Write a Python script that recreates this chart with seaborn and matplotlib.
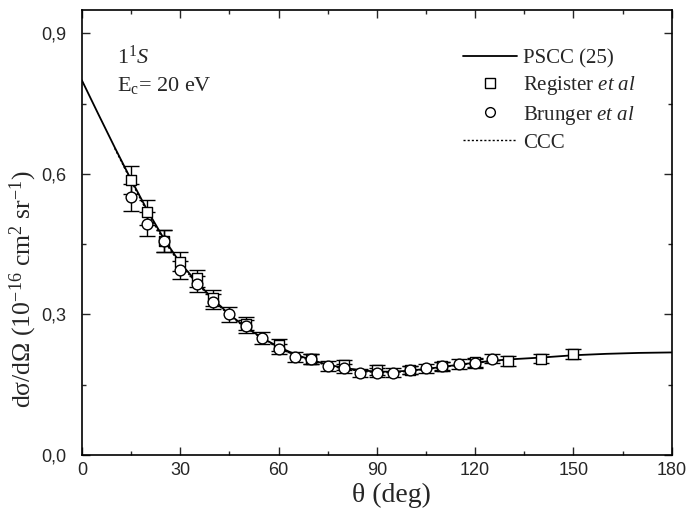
import numpy as np
import pandas as pd
import seaborn as sns
import matplotlib.pyplot as plt
from matplotlib.lines import Line2D
from matplotlib.ticker import MultipleLocator, FuncFormatter

# PSCC (25) theory curve
pscc_angle = [0, 5, 10, 15, 20, 25, 30, 35, 40, 45, 50, 55, 60, 65, 70, 75, 80, 85, 90,
              95, 100, 105, 110, 115, 120, 125, 130, 140, 150, 160, 170, 180]
pscc_dcs = [0.800, 0.728, 0.657, 0.588, 0.522, 0.462, 0.410, 0.370, 0.333, 0.300, 0.273,
            0.250, 0.231, 0.215, 0.203, 0.193, 0.186, 0.181, 0.178, 0.178, 0.180, 0.184,
            0.188, 0.193, 0.197, 0.201, 0.204, 0.208, 0.213, 0.216, 0.218, 0.219]

# CCC theory curve
ccc_angle = [10, 15, 20, 25, 30, 35, 40, 45, 50, 55, 60, 65, 70, 75, 80, 85, 90, 95,
             100, 105, 110, 115, 120, 125, 130]
ccc_dcs = [0.655, 0.585, 0.518, 0.458, 0.407, 0.367, 0.331, 0.298, 0.271, 0.249, 0.229,
           0.213, 0.201, 0.191, 0.184, 0.179, 0.176, 0.176, 0.179, 0.183, 0.187, 0.192,
           0.196, 0.200, 0.203]

# Register et al
reg_angle = [15, 20, 25, 30, 35, 40, 50, 60, 70, 80, 90, 100, 110, 120, 130, 140, 150]
reg_dcs = [0.587, 0.518, 0.457, 0.413, 0.377, 0.336, 0.280, 0.235, 0.205, 0.192, 0.181,
           0.182, 0.190, 0.198, 0.201, 0.206, 0.215]
reg_err = [0.029, 0.026, 0.023, 0.021, 0.019, 0.017, 0.014, 0.012, 0.010, 0.010, 0.011,
           0.009, 0.009, 0.010, 0.010, 0.010, 0.011]

# Brunger et al
bru_angle = [15, 20, 25, 30, 35, 40, 45, 50, 55, 60, 65, 70, 75, 80, 85, 90, 95, 100,
             105, 110, 115, 120, 125]
bru_dcs = [0.550, 0.493, 0.457, 0.395, 0.365, 0.327, 0.300, 0.275, 0.250, 0.226, 0.209,
           0.205, 0.190, 0.185, 0.175, 0.176, 0.176, 0.181, 0.185, 0.189, 0.194, 0.196,
           0.206]
bru_err = [0.028, 0.025, 0.023, 0.020, 0.018, 0.016, 0.015, 0.014, 0.012, 0.011, 0.010,
           0.010, 0.010, 0.009, 0.009, 0.009, 0.009, 0.009, 0.009, 0.009, 0.010, 0.010,
           0.010]

sns.set_style("ticks")
plt.rcParams['font.family'] = ['Liberation Serif', 'DejaVu Serif']
plt.rcParams['mathtext.fontset'] = 'custom'
plt.rcParams['mathtext.rm'] = 'Liberation Serif'
plt.rcParams['mathtext.it'] = 'Liberation Serif:italic'

fig = plt.figure(figsize=(6.94, 5.18), dpi=100)
ax = fig.add_axes([0.118, 0.1216, 0.850, 0.859])

pscc = pd.DataFrame({'angle': pscc_angle, 'dcs': pscc_dcs})
ccc = pd.DataFrame({'angle': ccc_angle, 'dcs': ccc_dcs})
sns.lineplot(data=pscc, x='angle', y='dcs', ax=ax, color='black', lw=1.3, zorder=2)
sns.lineplot(data=ccc, x='angle', y='dcs', ax=ax, color='black', lw=1.0,
             linestyle=(0, (1.5, 1.5)), zorder=2)

ax.errorbar(reg_angle, reg_dcs, yerr=reg_err, fmt='none', ecolor='black', elinewidth=1.0,
            capsize=6, capthick=1.0, zorder=3)
ax.errorbar(bru_angle, bru_dcs, yerr=bru_err, fmt='none', ecolor='black', elinewidth=1.0,
            capsize=6, capthick=1.0, zorder=3)
sns.scatterplot(x=reg_angle, y=reg_dcs, ax=ax, marker='s', s=50, facecolor='white',
                edgecolor='black', linewidth=1.0, zorder=4)
sns.scatterplot(x=bru_angle, y=bru_dcs, ax=ax, marker='o', s=60, facecolor='white',
                edgecolor='black', linewidth=1.0, zorder=5)

ax.set_xlim(0, 180)
ax.set_ylim(0, 0.95)
ax.xaxis.set_major_locator(MultipleLocator(30))
ax.xaxis.set_minor_locator(MultipleLocator(15))
ax.yaxis.set_major_locator(MultipleLocator(0.3))
ax.yaxis.set_minor_locator(MultipleLocator(0.15))
ax.yaxis.set_major_formatter(FuncFormatter(lambda v, p: f"{v:.1f}".replace('.', ',')))
ax.tick_params(which='both', direction='in', top=True, right=True, width=1.0)
ax.tick_params(which='major', length=6, labelsize=13,
               labelfontfamily='Liberation Sans')
ax.tick_params(which='minor', length=3)
ax.tick_params(axis='y', which='major', pad=11)
ax.tick_params(axis='x', which='major', pad=5)
for sp in ax.spines.values():
    sp.set_linewidth(1.2)
    sp.set_color('black')

ax.set_xlabel(r'θ (deg)', fontsize=20)
ax.set_ylabel(r'dσ/dΩ (10$^{-16}$ cm$^{2}$ sr$^{-1}$)', fontsize=18.5)
ax.xaxis.set_label_coords(0.525, -0.063)
ax.yaxis.set_label_coords(-0.073, 0.372)

ax.text(10.8, 0.850, r'1$^{1}$$\mathit{S}$', fontsize=16, va='center')
ax.text(10.8, 0.788, r'E$_{\rm c}$= 20 eV', fontsize=16, va='center')

handles = [Line2D([], [], color='black', lw=1.3),
           Line2D([], [], ls='none', marker='s', mfc='white', mec='black', ms=7),
           Line2D([], [], ls='none', marker='o', mfc='white', mec='black', ms=7),
           Line2D([], [], color='black', lw=1.0, linestyle=(0, (1.5, 1.5)))]
labels = ['PSCC (25)', r'Register $\mathit{et\ al}$', r'Brunger $\mathit{et\ al}$', 'CCC']
ax.legend(handles, labels, loc='upper left', bbox_to_anchor=(0.632, 0.932),
          borderaxespad=0, frameon=False, fontsize=15, handlelength=2.6,
          handletextpad=0.3, labelspacing=0.3)

fig.savefig('out.png', dpi=100)
